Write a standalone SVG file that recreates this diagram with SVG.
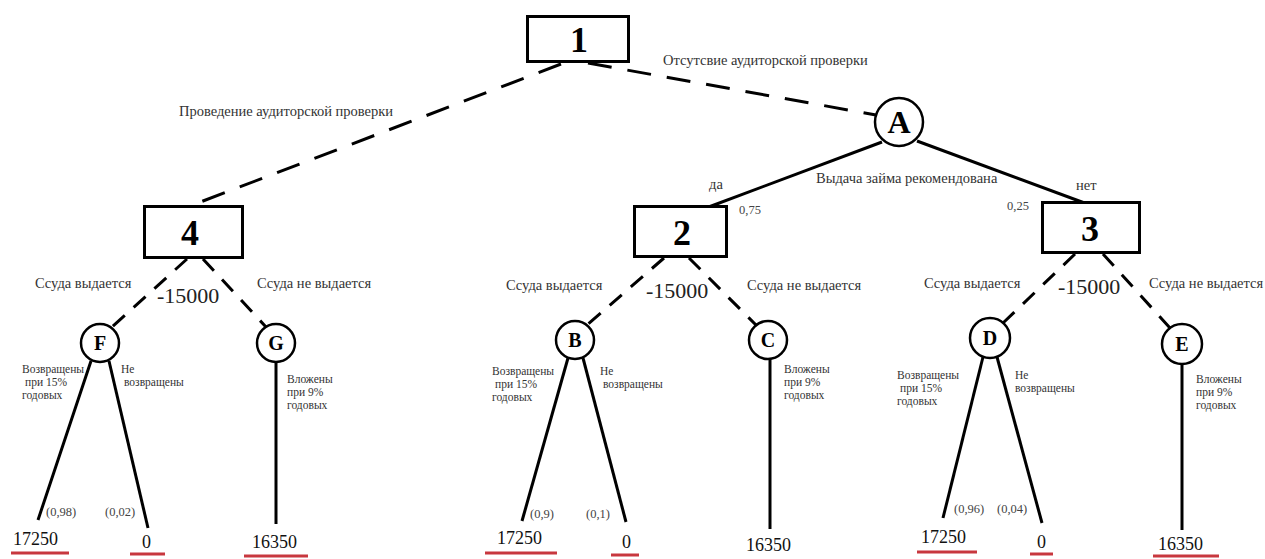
<svg xmlns="http://www.w3.org/2000/svg" width="1265" height="559" viewBox="0 0 1265 559">
<style>
  text { font-family: "Liberation Serif", "Times New Roman", serif; }
  .box { fill: #fff; stroke: #000; stroke-width: 3; }
  .circ { fill: #fff; stroke: #000; stroke-width: 2.5; }
  .big { font-size: 36px; font-weight: bold; fill: #000; text-anchor: middle; }
  .let { font-size: 20px; font-weight: bold; fill: #000; text-anchor: middle; }
  .dash1 { stroke: #000; stroke-width: 3; stroke-dasharray: 24 16; fill: none; }
  .dash2 { stroke: #000; stroke-width: 3; stroke-dasharray: 16 12; fill: none; }
  .solid { stroke: #000; stroke-width: 3; fill: none; }
  .lbl { font-size: 14.5px; fill: #333; }
  .sm { font-size: 11.5px; fill: #333; }
  .prob { font-size: 12.5px; fill: #444; }
  .cost { font-size: 22px; fill: #222; }
  .val { font-size: 18px; fill: #111; }
  .ul { stroke: #c8373e; stroke-width: 3; }
</style>

<g id="connectors">
  <line class="dash1" x1="561" y1="64" x2="190" y2="206"/>
  <line class="dash1" x1="588" y1="63" x2="876" y2="115"/>
  <line class="solid" x1="882" y1="142" x2="706" y2="208"/>
  <line class="solid" x1="917" y1="141" x2="1090" y2="205"/>
  <line class="dash2" x1="187" y1="259" x2="112" y2="327"/>
  <line class="dash2" x1="203" y1="259" x2="266" y2="327"/>
  <line class="dash2" x1="664" y1="258" x2="587" y2="325"/>
  <line class="dash2" x1="689" y1="258" x2="757" y2="326"/>
  <line class="dash2" x1="1075" y1="254" x2="1003" y2="323"/>
  <line class="dash2" x1="1103" y1="254" x2="1170" y2="328"/>
  <line class="solid" x1="91" y1="361" x2="38" y2="520"/>
  <line class="solid" x1="109" y1="361" x2="148" y2="528"/>
  <line class="solid" x1="276" y1="362" x2="276" y2="524"/>
  <line class="solid" x1="568" y1="358" x2="522" y2="521"/>
  <line class="solid" x1="583" y1="358" x2="626" y2="522"/>
  <line class="solid" x1="770" y1="358" x2="770" y2="529"/>
  <line class="solid" x1="983" y1="357" x2="943" y2="518"/>
  <line class="solid" x1="997" y1="357" x2="1042" y2="523"/>
  <line class="solid" x1="1182" y1="364" x2="1182" y2="530"/>
</g>

<g id="node-1">
  <rect class="box" x="527.5" y="16.5" width="101" height="45"/>
  <text class="big" x="579" y="52">1</text>
</g>
<g id="node-A">
  <circle class="circ" cx="899" cy="122" r="24"/>
  <text class="let" x="899" y="133" style="font-size:32px">A</text>
</g>
<g id="node-4">
  <rect class="box" x="144.5" y="206.5" width="98" height="51"/>
  <text class="big" x="190" y="245">4</text>
</g>
<g id="node-2">
  <rect class="box" x="634.5" y="206.5" width="92" height="50"/>
  <text class="big" x="682" y="245">2</text>
</g>
<g id="node-3">
  <rect class="box" x="1042.5" y="202.5" width="97" height="50"/>
  <text class="big" x="1090" y="241">3</text>
</g>
<g id="node-F">
  <circle class="circ" cx="100" cy="343" r="19"/>
  <text class="let" x="100" y="350">F</text>
</g>
<g id="node-G">
  <circle class="circ" cx="276" cy="343" r="19"/>
  <text class="let" x="276" y="350">G</text>
</g>
<g id="node-B">
  <circle class="circ" cx="575" cy="340" r="19"/>
  <text class="let" x="575" y="347">B</text>
</g>
<g id="node-C">
  <circle class="circ" cx="768" cy="340" r="19"/>
  <text class="let" x="768" y="347">C</text>
</g>
<g id="node-D">
  <circle class="circ" cx="990" cy="338" r="20"/>
  <text class="let" x="990" y="345">D</text>
</g>
<g id="node-E">
  <circle class="circ" cx="1182" cy="344" r="20"/>
  <text class="let" x="1182" y="351">E</text>
</g>

<g id="labels">
  <text class="lbl" x="663" y="65">Отсутсвие аудиторской проверки</text>
  <text class="lbl" x="179" y="116">Проведение аудиторской проверки</text>
  <text class="lbl" x="816" y="183">Выдача займа рекомендована</text>
  <text class="lbl" x="709" y="189">да</text>
  <text class="lbl" x="1076" y="190">нет</text>
  <text class="prob" x="739" y="214">0,75</text>
  <text class="prob" x="1007" y="210">0,25</text>

  <text class="lbl" x="35" y="288">Ссуда выдается</text>
  <text class="cost" x="157" y="303">-15000</text>
  <text class="lbl" x="257" y="288">Ссуда не выдается</text>
  <text class="lbl" x="506" y="290">Ссуда выдается</text>
  <text class="cost" x="646" y="298">-15000</text>
  <text class="lbl" x="747" y="290">Ссуда не выдается</text>
  <text class="lbl" x="924" y="288">Ссуда выдается</text>
  <text class="cost" x="1058" y="294">-15000</text>
  <text class="lbl" x="1149" y="288">Ссуда не выдается</text>

  <text class="sm" x="22" y="373">Возвращены</text>
  <text class="sm" x="25" y="386">при 15%</text>
  <text class="sm" x="22" y="399">годовых</text>
  <text class="sm" x="121" y="373">Не</text>
  <text class="sm" x="124" y="386">возвращены</text>
  <text class="sm" x="287" y="383">Вложены</text>
  <text class="sm" x="287" y="396">при 9%</text>
  <text class="sm" x="287" y="409">годовых</text>

  <text class="sm" x="492" y="375">Возвращены</text>
  <text class="sm" x="495" y="388">при 15%</text>
  <text class="sm" x="492" y="401">годовых</text>
  <text class="sm" x="600" y="375">Не</text>
  <text class="sm" x="603" y="388">возвращены</text>
  <text class="sm" x="784" y="373">Вложены</text>
  <text class="sm" x="784" y="386">при 9%</text>
  <text class="sm" x="784" y="399">годовых</text>

  <text class="sm" x="897" y="379">Возвращены</text>
  <text class="sm" x="900" y="392">при 15%</text>
  <text class="sm" x="897" y="405">годовых</text>
  <text class="sm" x="1015" y="379">Не</text>
  <text class="sm" x="1015" y="392">возвращены</text>
  <text class="sm" x="1196" y="383">Вложены</text>
  <text class="sm" x="1196" y="396">при 9%</text>
  <text class="sm" x="1196" y="409">годовых</text>

  <text class="prob" x="46" y="516">(0,98)</text>
  <text class="prob" x="105" y="516">(0,02)</text>
  <text class="prob" x="530" y="518">(0,9)</text>
  <text class="prob" x="586" y="518">(0,1)</text>
  <text class="prob" x="954" y="513">(0,96)</text>
  <text class="prob" x="997" y="513">(0,04)</text>

  <text class="val" x="13" y="545">17250</text>
  <text class="val" x="142" y="548">0</text>
  <text class="val" x="252" y="548">16350</text>
  <text class="val" x="497" y="544">17250</text>
  <text class="val" x="622" y="548">0</text>
  <text class="val" x="746" y="551">16350</text>
  <text class="val" x="921" y="543">17250</text>
  <text class="val" x="1037" y="548">0</text>
  <text class="val" x="1158" y="550">16350</text>
</g>

<g id="underlines">
  <line class="ul" x1="11" y1="553" x2="69" y2="553"/>
  <line class="ul" x1="130" y1="554" x2="165" y2="554"/>
  <line class="ul" x1="244" y1="556" x2="308" y2="556"/>
  <line class="ul" x1="485" y1="553" x2="557" y2="553"/>
  <line class="ul" x1="611" y1="555" x2="639" y2="555"/>
  <line class="ul" x1="917" y1="552" x2="977" y2="552"/>
  <line class="ul" x1="1030" y1="554" x2="1053" y2="554"/>
  <line class="ul" x1="1153" y1="556" x2="1219" y2="556"/>
</g>
</svg>
